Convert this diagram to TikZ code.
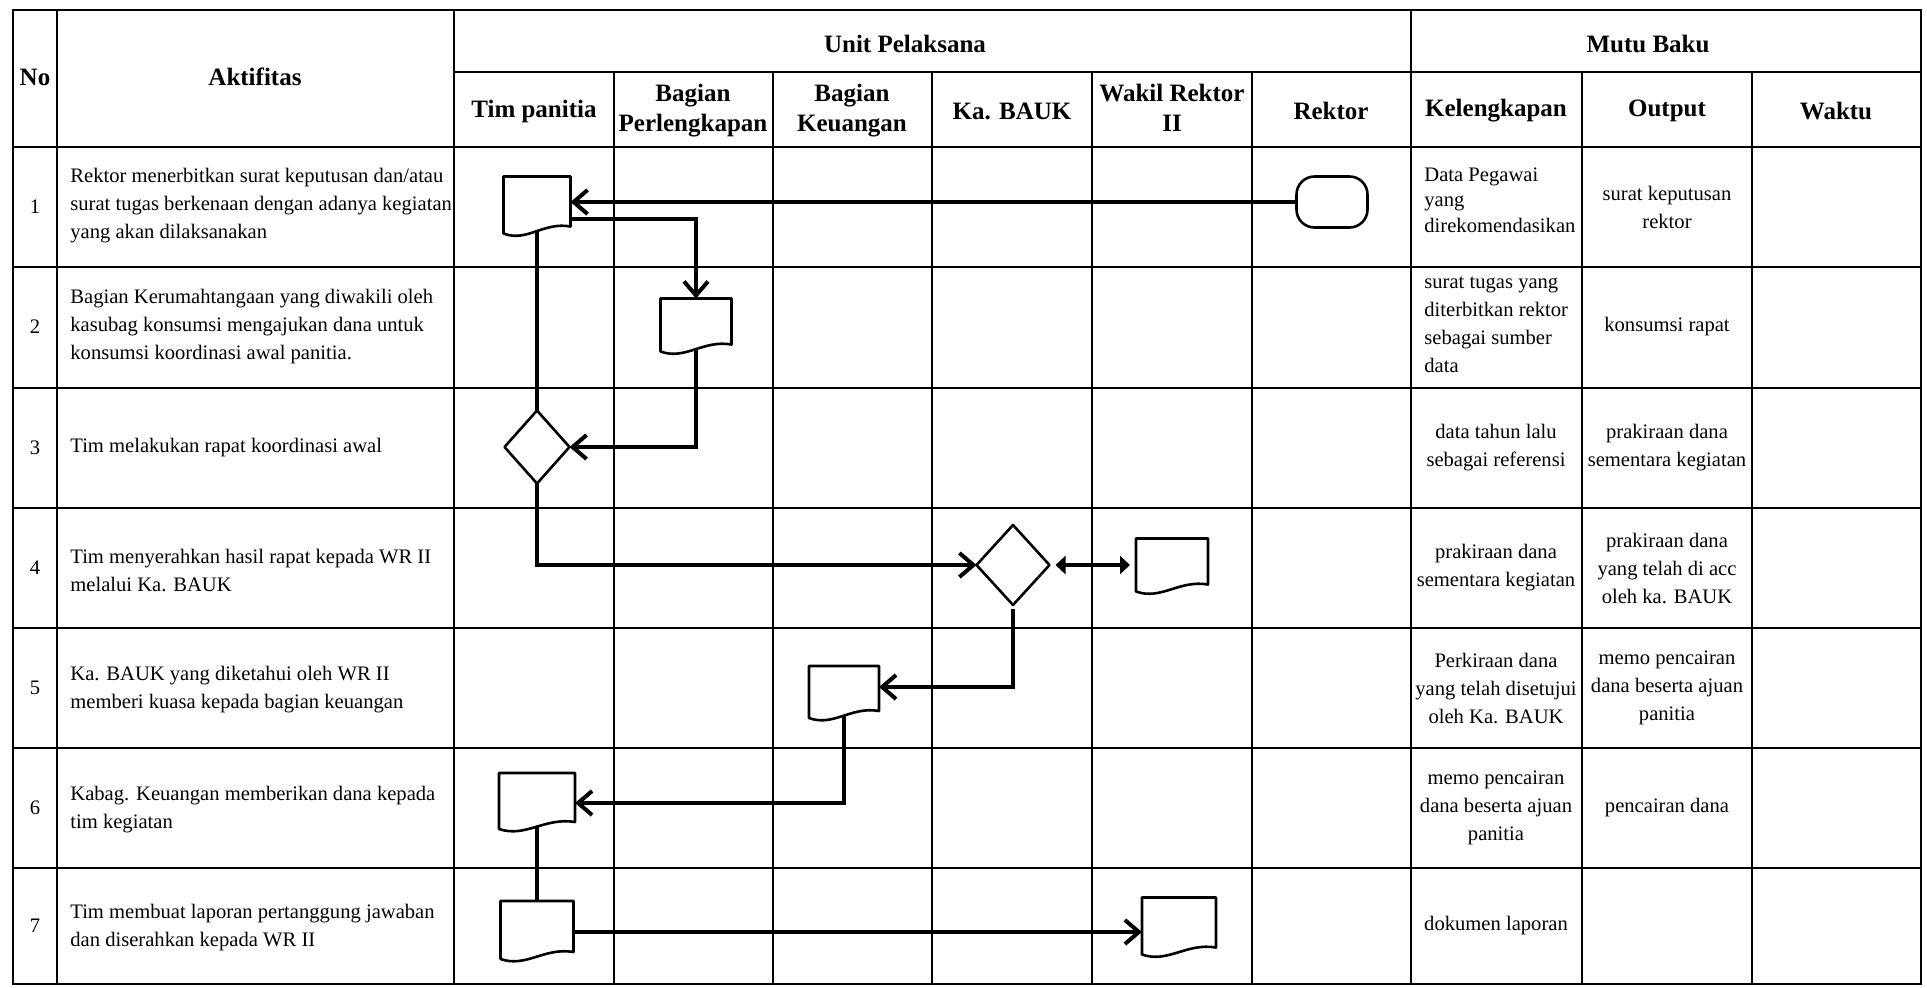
\documentclass[tikz,border=0pt]{standalone}
\usepackage{fontspec}
\setmainfont{Liberation Serif}
\usetikzlibrary{arrows.meta,calc}
\newcommand{\docdraw}[1]{%
  \draw[shp] (#1.north west) -- (#1.north east) -- ($(#1.south east)+(0,5.5pt)$)
    .. controls ($(#1.south west)!0.6!(#1.south east)+(0,8pt)$) and ($(#1.south west)!0.35!(#1.south east)+(0,-2.5pt)$)
    .. ($(#1.south west)+(0,2pt)$) -- cycle;}
\newcommand{\diadraw}[1]{%
  \draw[shp] (#1.north) -- (#1.east) -- (#1.south) -- (#1.west) -- cycle;}
\begin{document}
\begin{tikzpicture}[x=0.5pt,y=-0.5pt,
  grid/.style={line width=1pt},
  hd/.style={font=\fontsize{12.5}{15}\selectfont\bfseries, align=center, inner sep=0},
  bd/.style={font=\fontsize{10.3}{14}\selectfont, align=left, anchor=west, inner sep=0},
  cc/.style={font=\fontsize{10.3}{14}\selectfont, align=center, inner sep=0},
  box/.style={inner sep=0, outer sep=0},
  shp/.style={line width=1.3pt, fill=white, line join=round},
  flow/.style={line width=2pt},
  arr/.style={flow, -{Straight Barb[length=7pt,width=12pt]}},
  darr/.style={flow, {Triangle[length=5pt,width=9pt]}-{Triangle[length=5pt,width=9pt]}, shorten <=3pt, shorten >=3pt},
]
\useasboundingbox (0,0) rectangle (1927,987);
\fill[white] (0,0) rectangle (1927,987);

% grid
\draw[grid] (13,10) rectangle (1921,984);
\draw[grid] (57,10) -- (57,984);
\draw[grid] (454,10) -- (454,984);
\draw[grid] (1411,10) -- (1411,984);
\draw[grid] (454,72) -- (1921,72);
\foreach \x in {614,773,932,1092,1252,1582,1752} \draw[grid] (\x,72) -- (\x,984);
\foreach \y in {147,267,388,508,628,748,868} \draw[grid] (13,\y) -- (1921,\y);

% headers
\node[hd] (hno) at (35,77) {No};
\node[hd] (hakt) at (255,77) {Aktifitas};
\node[hd] (hunit) at (905,44) {Unit Pelaksana};
\node[hd] (hmutu) at (1648,44) {Mutu Baku};
\node[hd] (htim) at (534,111) {Tim panitia};
\node[hd] (hperl) at (693,111) {Bagian\\Perlengkapan};
\node[hd] (hkeu) at (852,111) {Bagian\\Keuangan};
\node[hd] (hbauk) at (1012,111) {Ka. BAUK};
\node[hd] (hwr) at (1172,108) {Wakil Rektor\\II};
\node[hd] (hrek) at (1331,111) {Rektor};
\node[hd] (hkel) at (1496,111) {Kelengkapan};
\node[hd] (hout) at (1667,111) {Output};
\node[hd] (hwak) at (1836,111) {Waktu};

% row numbers
\foreach \n/\y in {1/207,2/327,3/448,4/568,5/688,6/808,7/926}
  \node[cc] (no\n) at (35,\y) {\n};

% activities
\node[bd] (a1) at (70,206) {Rektor menerbitkan surat keputusan dan/atau\\surat tugas berkenaan dengan adanya kegiatan\\yang akan dilaksanakan};
\node[bd] (a2) at (70,327) {Bagian Kerumahtangaan yang diwakili oleh\\kasubag konsumsi mengajukan dana untuk\\konsumsi koordinasi awal panitia.};
\node[bd] (a3) at (70,448) {Tim melakukan rapat koordinasi awal};
\node[bd] (a4) at (70,570) {Tim menyerahkan hasil rapat kepada WR II\\melalui Ka. BAUK};
\node[bd] (a5) at (70,690) {Ka. BAUK yang diketahui oleh WR II\\memberi kuasa kepada bagian keuangan};
\node[bd] (a6) at (70,810) {Kabag. Keuangan memberikan dana kepada\\tim kegiatan};
\node[bd] (a7) at (70,928) {Tim membuat laporan pertanggung jawaban\\dan diserahkan kepada WR II};

% kelengkapan
\node[bd, font=\fontsize{10.3}{12.8}\selectfont] (k1) at (1424,200) {Data Pegawai\\yang\\direkomendasikan};
\node[bd] (k2) at (1424,325) {surat tugas yang\\diterbitkan rektor\\sebagai sumber\\data};
\node[cc] (k3) at (1496,448) {data tahun lalu\\sebagai referensi};
\node[cc] (k4) at (1496,568) {prakiraan dana\\sementara kegiatan};
\node[cc] (k5) at (1496,688) {Perkiraan dana\\yang telah disetujui\\oleh Ka. BAUK};
\node[cc] (k6) at (1496,808) {memo pencairan\\dana beserta ajuan\\panitia};
\node[cc] (k7) at (1496,926) {dokumen laporan};

% output
\node[cc] (o1) at (1667,207) {surat keputusan\\rektor};
\node[cc] (o2) at (1667,327) {konsumsi rapat};
\node[cc] (o3) at (1667,448) {prakiraan dana\\sementara kegiatan};
\node[cc] (o4) at (1667,568) {prakiraan dana\\yang telah di acc\\oleh ka. BAUK};
\node[cc] (o5) at (1667,688) {memo pencairan\\dana beserta ajuan\\panitia};
\node[cc] (o6) at (1667,808) {pencairan dana};

% flow shapes (placeholders)
\node[box, minimum width=33.5pt, minimum height=30.5pt] (doc1) at (537,207) {};
\node[draw, line width=1.3pt, rounded corners=9pt, minimum width=35.5pt, minimum height=25.5pt, fill=white] (term) at (1332,202) {};
\node[box, minimum width=35.5pt, minimum height=28.5pt] (doc2) at (696,327) {};
\node[box, minimum width=32.5pt, minimum height=36.5pt] (dia1) at (537,447) {};
\node[box, minimum width=36.5pt, minimum height=40pt] (dia2) at (1013,565) {};
\node[box, minimum width=36pt, minimum height=28.5pt] (doc3) at (1172,567) {};
\node[box, minimum width=35pt, minimum height=28pt] (doc4) at (844,694) {};
\node[box, minimum width=38pt, minimum height=30pt] (doc5) at (537,803) {};
\node[box, minimum width=36.5pt, minimum height=31pt] (doc6) at (537,932) {};
\node[box, minimum width=37pt, minimum height=30.5pt] (doc7) at (1179,928) {};

% connectors
\draw[arr] (term.west) -- (term.west -| doc1.east);
\draw[arr] ([yshift=-6pt]doc1.east) -| (doc2.north);
\draw[flow] (doc1.center) -- (dia1.center);
\draw[arr] (doc2.center) |- (dia1.east);
\draw[arr] (dia1.center) |- (dia2.west);
\draw[darr] (dia2.east) -- (dia2.east -| doc3.west);
\draw[arr] ([yshift=-2pt]dia2.south) |- ([yshift=3.5pt]doc4.east);
\draw[arr] (doc4.center) |- (doc5.east);
\draw[flow] (doc5.center) -- (doc6.center);
\draw[arr] (doc6.east) -- (doc6.east -| doc7.west);

% shapes on top
\docdraw{doc1}
\docdraw{doc2}
\diadraw{dia1}
\diadraw{dia2}
\docdraw{doc3}
\docdraw{doc4}
\docdraw{doc5}
\docdraw{doc6}
\docdraw{doc7}
\end{tikzpicture}
\end{document}
